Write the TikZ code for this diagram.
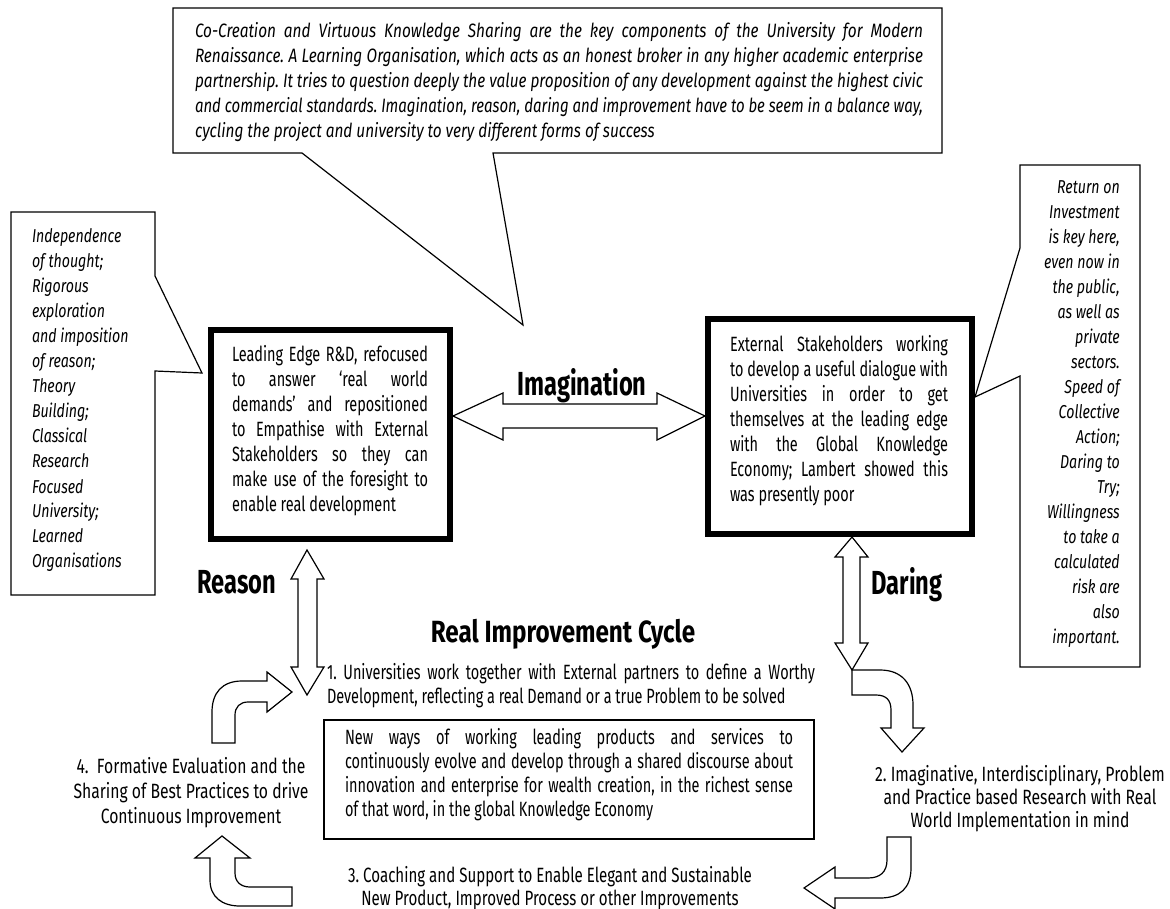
\documentclass[tikz,border=0pt]{standalone}
\usepackage{fontspec}
\usepackage{graphicx}
\newfontfamily\agr[FakeStretch=0.70]{Fira Sans}
\newfontfamily\agw[FakeStretch=0.76]{Fira Sans}
\newfontfamily\agm[FakeStretch=0.73]{Fira Sans}
\newfontfamily\agi[FakeStretch=0.795]{Fira Sans}
\newfontfamily\agc[FakeStretch=0.76]{Fira Sans}
\newfontfamily\agb[FakeStretch=0.71]{Fira Sans}
\newfontfamily\agt[FakeStretch=0.79]{Fira Sans}
\newsavebox\jbox
\newcommand\jline[1]{\sbox\jbox{#1}\ifdim\wd\jbox>\linewidth\resizebox{\linewidth}{\ht\jbox}{\usebox\jbox}\else\makebox[\linewidth][s]{#1}\fi\par}
\newcommand\regtext{\frenchspacing\agr\fontsize{15.5}{18.75}\selectfont}
\newcommand\widetext{\frenchspacing\agw\fontsize{15.5}{18.75}\selectfont}
\newcommand\midtext{\frenchspacing\agm\fontsize{15.5}{18.75}\selectfont}
\newcommand\ittext{\frenchspacing\agi\itshape\fontsize{14.5}{18.75}\selectfont}
\newcommand\cotext{\frenchspacing\agc\itshape\fontsize{14}{18.75}\selectfont}
\newcommand\boldlabel{\agb\bfseries\fontsize{25}{30}\selectfont}
\begin{document}
\begin{tikzpicture}[x={(0.75pt,0)},y={(0,-0.75pt)},
  txt/.style={anchor=base west,inner sep=0pt,outer sep=0pt},
  ctxt/.style={anchor=base,inner sep=0pt,outer sep=0pt},
  thinline/.style={line width=0.9pt,line join=miter},
  blockarrow/.style={line width=0.9pt,line join=miter,fill=white},
  mainbox/.style={draw,line width=4.5pt,inner sep=0pt,outer sep=0pt},
  lbl/.style={anchor=base,inner sep=0pt}]
\fill[white] (0,0) rectangle (1170,909);
\useasboundingbox (0,0) rectangle (1170,909);

% ---- callouts ----
\draw[thinline] (173,8) -- (942,8) -- (942,153) -- (493,153) -- (523,325) -- (302,153) -- (173,153) -- cycle;
\draw[thinline] (11,212) -- (155,212) -- (155,276) -- (202,373) -- (155,371) -- (155,595) -- (11,595) -- cycle;
\draw[thinline] (1020,165) -- (1140,165) -- (1140,667) -- (1020,667) -- (1020,376) -- (975,397) -- (1020,248) -- cycle;

\node[txt] (toptext) at (195,38) {\parbox[t]{546pt}{\ittext
\jline{Co-Creation and Virtuous Knowledge Sharing are the key components of the University for Modern}
\jline{Renaissance. A Learning Organisation, which acts as an honest broker in any higher academic enterprise}
\jline{partnership. It tries to question deeply the value proposition of any development against the highest civic}
\jline{and commercial standards. Imagination, reason, daring and improvement have to be seem in a balance way,}
cycling the project and university to very different forms of success}};

\node[txt] (lefttext) at (32,243) {\parbox[t]{93.75pt}{\raggedright\cotext
Independence\\ of thought;\\ Rigorous\\ exploration\\ and imposition\\ of reason;\\ Theory\\ Building;\\ Classical\\ Research\\ Focused\\ University;\\ Learned\\ Organisations}};

\node[anchor=base east,inner sep=0pt] (righttext) at (1120,194) {\parbox[t]{75pt}{\raggedleft\cotext
Return on\\ Investment\\ is key here,\\ even now in\\ the public,\\ as well as\\ private\\ sectors.\\ Speed of\\ Collective\\ Action;\\ Daring to\\ Try;\\ Willingness\\ to take a\\ calculated\\ risk are\\ also\\ important.}};

% ---- main boxes ----
\node[mainbox,minimum width=179.25pt,minimum height=156.75pt] (lbox) at (330.5,434.5) {};
\node[mainbox,minimum width=198pt,minimum height=161.25pt] (rbox) at (840,426.5) {};
\node[draw,line width=1.5pt,inner sep=0pt,minimum width=367.5pt,minimum height=89.25pt] (nbox) at (569,779.5) {};

\node[txt] (ltext) at (232,361) {\parbox[t]{147pt}{\regtext
\jline{Leading Edge R\&D, refocused}
\jline{to answer ‘real world}
\jline{demands’ and repositioned}
\jline{to Empathise with External}
\jline{Stakeholders so they can}
\jline{make use of the foresight to}
enable real development}};

\node[txt] (rtext) at (730,351) {\parbox[t]{163.5pt}{\regtext
\jline{External Stakeholders working}
\jline{to develop a useful dialogue with}
\jline{Universities in order to get}
\jline{themselves at the leading edge}
\jline{with the Global Knowledge}
\jline{Economy; Lambert showed this}
was presently poor}};

\node[txt] (ntext) at (345,744) {\parbox[t]{336pt}{\regtext\baselineskip=18pt
\jline{New ways of working leading products and services to}
\jline{continuously evolve and develop through a shared discourse about}
\jline{innovation and enterprise for wealth creation, in the richest sense}
of that word, in the global Knowledge Economy}};

% ---- cycle texts ----
\node[txt] (p1) at (327,679) {\parbox[t]{366pt}{\regtext\baselineskip=18pt
\jline{1. Universities work together with External partners to define a Worthy}
Development, reflecting a real Demand or a true Problem to be solved}};

\node[ctxt] (p2) at (1020,781) {\parbox[t]{225pt}{\centering\widetext\baselineskip=17.6pt
2. Imaginative, Interdisciplinary, Problem\\ and Practice based Research with Real\\ World Implementation in mind}};

\node[ctxt] (p3) at (550,882) {\parbox[t]{315pt}{\centering\midtext\baselineskip=17.5pt
3. Coaching and Support to Enable Elegant and Sustainable\\ New Product, Improved Process or other Improvements}};

\node[ctxt] (p4) at (191,773) {\parbox[t]{187.5pt}{\centering\widetext
4.\ \ Formative Evaluation and the\\ Sharing of Best Practices to drive\\ Continuous Improvement}};

% ---- labels ----
\node[lbl] (imag) at (582,395) {\boldlabel Imagination};
\node[lbl] (reason) at (237,593) {\boldlabel Reason};
\node[lbl] (daring) at (907,594) {\boldlabel Daring};
\node[lbl] (title) at (563,642) {\agt\bfseries\fontsize{23}{27}\selectfont Real Improvement Cycle};

% ---- block arrows ----
% Imagination
\draw[blockarrow] (453,416) -- (503,393) -- (503,404) -- (657,404) -- (657,393) -- (705,416) -- (657,440) -- (657,428) -- (503,428) -- (503,440) -- cycle;
% Reason
\draw[blockarrow] (307,550) -- (324,579) -- (317,579) -- (317,667) -- (324,667) -- (307,695) -- (291,667) -- (298,667) -- (298,579) -- (291,579) -- cycle;
% Daring
\draw[blockarrow] (852,537) -- (868,557) -- (860,557) -- (860,643) -- (868,643) -- (852,670) -- (835,643) -- (843,643) -- (843,557) -- (835,557) -- cycle;
% bent arrow to point 2
\draw[blockarrow] (852,670) -- (880,670) .. controls (902,670) and (913,684) .. (913,705) -- (913,728) -- (924,728) -- (902,752) -- (881,728) -- (891,728) -- (891,710) .. controls (891,700) and (886,695) .. (876,695) -- (852,695) -- cycle;
% bent arrow to point 3
\draw[blockarrow] (887,837) -- (911,837) -- (911,868) .. controls (911,888) and (900,898) .. (880,898) -- (835,898) -- (835,909) -- (804,888) -- (835,867) -- (835,878) -- (868,878) .. controls (880,878) and (887,872) .. (887,860) -- cycle;
% bent arrow to point 4
\draw[blockarrow] (235,858) -- (250,858) -- (222,836) -- (195,858) -- (210,858) -- (210,880) .. controls (210,897) and (222,906) .. (240,906) -- (292,906) -- (292,887) -- (250,887) .. controls (241,887) and (235,882) .. (235,873) -- cycle;
% bent arrow to point 1
\draw[blockarrow] (212,743) -- (212,712) .. controls (212,693) and (222,681) .. (242,681) -- (267,681) -- (267,672) -- (292,692) -- (267,712) -- (267,702) -- (248,702) .. controls (240,702) and (235,707) .. (235,715) -- (235,743) -- cycle;
\end{tikzpicture}
\end{document}
